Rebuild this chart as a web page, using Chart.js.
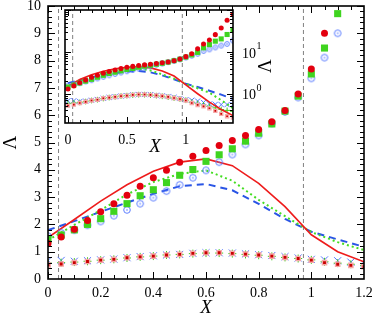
<!DOCTYPE html>
<html lang="en">
<head>
<meta charset="UTF-8">
<title>Lambda vs X</title>
<script src="https://cdn.jsdelivr.net/npm/chart.js"></script>
<style>
  body { margin: 0; background: #fff; }
  #wrap { position: relative; width: 373px; height: 319px; }
  #wrap canvas { position: absolute; left: 0; top: 0; }
</style>
</head>
<body>
<div id="wrap">
  <canvas id="mainChart" width="373" height="319"></canvas>
  <canvas id="insetChart" width="373" height="160"></canvas>
</div>
<script>
// symbols sampled every 0.05 in X
const xPts = [0, 0.05, 0.1, 0.15, 0.2, 0.25, 0.3, 0.35, 0.4, 0.45, 0.5, 0.55, 0.6, 0.65, 0.7,
              0.75, 0.8, 0.85, 0.9, 0.95, 1.0, 1.05, 1.1, 1.15, 1.2, 1.25, 1.3, 1.35, 1.4];
const redDots = [1.30, 1.54, 1.82, 2.14, 2.46, 2.76, 3.07, 3.40, 3.71, 3.98, 4.28, 4.50, 4.71, 4.89, 5.07,
                 5.26, 5.48, 5.76, 6.17, 6.78, 7.69, 9.0, 11.8, 15.5, 19.3, 25.8, 37, 57, 80];
const greenSquares = [1.45, 1.61, 1.80, 2.00, 2.21, 2.48, 2.76, 3.05, 3.27, 3.53, 3.80, 4.01, 4.31, 4.55, 4.77,
                      5.05, 5.34, 5.68, 6.15, 6.70, 7.51, 8.46, 9.72, 12.5, 14.9, 18, 20.4, 26, 33];
const blueRings = [1.57, 1.69, 1.79, 1.97, 2.11, 2.32, 2.53, 2.76, 2.98, 3.22, 3.45, 3.71, 3.98, 4.28, 4.56,
                   4.93, 5.26, 5.70, 6.12, 6.65, 7.35, 8.11, 9.0, 10.5, 11.5, 12.8, 14.1, 15.5, 18.6];
const redLow = [0.52, 0.55, 0.60, 0.64, 0.69, 0.72, 0.78, 0.81, 0.84, 0.88, 0.90, 0.94, 0.96, 0.96, 0.94,
                0.91, 0.88, 0.84, 0.79, 0.75, 0.69, 0.60, 0.54, 0.50, 0.45, 0.39, 0.33, 0.29, 0.27];
const blueLow = [0.68, 0.68, 0.65, 0.67, 0.70, 0.73, 0.78, 0.82, 0.85, 0.88, 0.90, 0.94, 0.96, 0.96, 0.95,
                 0.92, 0.89, 0.86, 0.82, 0.77, 0.72, 0.70, 0.67, 0.62, 0.57, 0.56, 0.55, 0.55, 0.55];
const greenLow = [0.58, 0.60, 0.62, 0.65, 0.69, 0.72, 0.77, 0.81, 0.84, 0.88, 0.90, 0.93, 0.95, 0.95, 0.93,
                  0.90, 0.87, 0.83, 0.79, 0.75, 0.70, 0.63, 0.58, 0.54, 0.50, 0.46, 0.42, 0.40, 0.38];

// curves sampled every 0.1 in X
const xLine = [0, 0.1, 0.2, 0.3, 0.4, 0.5, 0.6, 0.7, 0.8, 0.9, 1.0, 1.1, 1.2, 1.3, 1.4];
const redLine = [1.52, 2.18, 2.85, 3.45, 3.95, 4.28, 4.40, 4.15, 3.50, 2.65, 1.62, 1.00, 0.63, 0.42, 0.30];
const greenLine = [1.42, 1.98, 2.52, 3.10, 3.55, 3.85, 3.98, 3.60, 2.90, 2.30, 1.72, 1.35, 1.06, 0.70, 0.45];
const blueLine = [1.79, 2.12, 2.46, 2.80, 3.12, 3.40, 3.48, 3.25, 2.75, 2.20, 1.73, 1.45, 1.18, 0.95, 0.75];

const markX = [0.04, 0.97];

const mainXTicks = [0, 0.2, 0.4, 0.6, 0.8, 1, 1.2];
const mainYTicks = [0, 1, 2, 3, 4, 5, 6, 7, 8, 9, 10];
const insetXTicks = [0, 0.5, 1];
const insetYTicks = [1, 10];

const serif = "'Liberation Serif', 'DejaVu Serif', serif";
Chart.defaults.font.family = serif;
Chart.defaults.color = '#000';

const pts = (xs, ys) => xs.map((x, i) => ({x: x, y: ys[i]}));

function ringDot(r, color) {
  const c = document.createElement('canvas');
  const s = Math.ceil(2 * r + 3);
  c.width = s; c.height = s;
  const g = c.getContext('2d');
  g.strokeStyle = color; g.lineWidth = 1;
  g.beginPath(); g.arc(s / 2, s / 2, r, 0, 2 * Math.PI); g.stroke();
  g.fillStyle = color;
  g.beginPath(); g.arc(s / 2, s / 2, 0.8, 0, 2 * Math.PI); g.fill();
  return c;
}

function sym(data, style, r, fill, stroke, bw) {
  return {data: data, showLine: false, pointStyle: style, pointRadius: r,
    pointBackgroundColor: fill, pointBorderColor: stroke, pointBorderWidth: bw};
}
function curve(data, color, w, dash) {
  return {data: data, borderColor: color, borderWidth: w, borderDash: dash,
    pointRadius: 0, tension: 0};
}

function buildSets(k, yLo, yHi) {
  const sets = [
    sym(pts(xPts, redDots), 'circle', 3.5 * k, '#e3000f', '#e3000f', 0),
    sym(pts(xPts, greenSquares), 'rect', 5 * k, '#3fd41f', '#3fd41f', 0),
    sym(pts(xPts, blueRings), ringDot(3.3 * k, '#5a7cff'), 4, '#5a7cff', '#5a7cff', 1),
    curve(pts(xLine, redLine), '#ee1c1c', 1.6, []),
    curve(pts(xLine, greenLine), '#44dd22', 2, [2, 3]),
    curve(pts(xLine, blueLine), '#2a55e5', 2, [7, 5]),
    sym(pts(xPts, redLow), 'rect', 3 * k, '#c80000', '#f6a8a8', 1.4),
    sym(pts(xPts, greenLow), 'cross', 4 * k, '#44cc22', '#44cc22', 1),
    sym(pts(xPts, blueLow), 'crossRot', 5 * k, '#5577ff', '#5577ff', 1)
  ];
  markX.forEach(v => sets.push(curve([{x: v, y: yLo}, {x: v, y: yHi}], '#808080', 1, [4, 3])));
  return sets;
}

function minorList(lo, hi, step) {
  const out = [];
  for (let v = lo; v <= hi + 1e-9; v += step) out.push(+v.toFixed(4));
  return out;
}

const frameTicks = {
  id: 'frameTicks',
  beforeDraw(chart) {
    const {ctx, chartArea: a} = chart;
    ctx.save();
    ctx.fillStyle = '#fff';
    ctx.fillRect(a.left, a.top, a.right - a.left, a.bottom - a.top);
    ctx.restore();
  },
  afterDraw(chart, args, o) {
    const {ctx, chartArea: a, scales: {x, y}} = chart;
    ctx.save();
    ctx.strokeStyle = '#000';
    ctx.lineWidth = 1;
    ctx.beginPath();
    const xt = (vals, len) => vals.forEach(v => {
      const p = Math.round(x.getPixelForValue(v)) + 0.5;
      if (p < a.left || p > a.right) return;
      ctx.moveTo(p, a.bottom); ctx.lineTo(p, a.bottom - len);
      ctx.moveTo(p, a.top); ctx.lineTo(p, a.top + len);
    });
    const yt = (vals, len) => vals.forEach(v => {
      const p = Math.round(y.getPixelForValue(v)) + 0.5;
      if (p < a.top || p > a.bottom) return;
      ctx.moveTo(a.left, p); ctx.lineTo(a.left + len, p);
      ctx.moveTo(a.right, p); ctx.lineTo(a.right - len, p);
    });
    xt(o.xMajor, o.major); xt(o.xMinor, o.minor);
    yt(o.yMajor, o.major); yt(o.yMinor, o.minor);
    ctx.stroke();
    ctx.lineWidth = o.frame;
    ctx.strokeRect(a.left, a.top, a.right - a.left, a.bottom - a.top);
    ctx.restore();
  }
};

const insetText = {
  id: 'insetText',
  afterDraw(chart) {
    const {ctx, chartArea: a, scales: {y}} = chart;
    ctx.save();
    ctx.fillStyle = '#000';
    ctx.textBaseline = 'middle';
    ctx.textAlign = 'left';
    insetYTicks.forEach(v => {
      const p = y.getPixelForValue(v);
      ctx.font = '14px ' + serif;
      const w = ctx.measureText('10').width;
      ctx.fillText('10', a.right + 9, p + 2);
      ctx.font = '10px ' + serif;
      ctx.fillText(String(Math.round(Math.log10(v))), a.right + 9 + w + 0.5, p - 5);
    });
    ctx.font = 'italic 19px ' + serif;
    ctx.textAlign = 'center';
    ctx.fillText('X', 155, 147);
    ctx.translate(266, 66);
    ctx.rotate(-Math.PI / 2);
    ctx.font = '19px ' + serif;
    ctx.fillText('Λ', 0, 0);
    ctx.restore();
  }
};

const tickFont = {family: serif, size: 14};
const fmt = v => String(+(+v).toFixed(2));

new Chart(document.getElementById('mainChart'), {
  type: 'line',
  data: {datasets: buildSets(1, 0, 10)},
  plugins: [frameTicks],
  options: {
    responsive: false, animation: false, events: [],
    layout: {padding: {left: 0, right: 9, top: 5, bottom: 0}},
    plugins: {
      legend: {display: false}, tooltip: {enabled: false},
      frameTicks: {xMajor: mainXTicks, xMinor: minorList(0, 1.2, 0.05),
        yMajor: mainYTicks, yMinor: minorList(0, 10, 0.2), major: 7, minor: 4, frame: 1.6}
    },
    scales: {
      x: {
        type: 'linear', min: 0, max: 1.2,
        grid: {display: false, drawTicks: false}, border: {display: false},
        afterBuildTicks: s => { s.ticks = mainXTicks.map(v => ({value: v})); },
        ticks: {font: tickFont, color: '#000', padding: 6, maxRotation: 0, autoSkip: false, callback: fmt},
        title: {display: true, text: 'X', color: '#000', padding: 0,
          font: {family: serif, size: 19, style: 'italic'}},
        afterFit: s => { s.height = 40; s.paddingLeft = 0; s.paddingRight = 0; }
      },
      y: {
        type: 'linear', min: 0, max: 10,
        grid: {display: false, drawTicks: false}, border: {display: false},
        afterBuildTicks: s => { s.ticks = mainYTicks.map(v => ({value: v})); },
        ticks: {font: tickFont, color: '#000', padding: 7, autoSkip: false, callback: fmt},
        title: {display: true, text: 'Λ', color: '#000', padding: 0,
          font: {family: serif, size: 19}},
        afterFit: s => { s.width = 48; s.paddingTop = 0; s.paddingBottom = 0; }
      }
    }
  }
});

new Chart(document.getElementById('insetChart'), {
  type: 'line',
  data: {datasets: buildSets(0.72, 0.2, 100)},
  plugins: [frameTicks, insetText],
  options: {
    responsive: false, animation: false, events: [],
    layout: {padding: {left: 65, right: 140, top: 10, bottom: 7}},
    plugins: {
      legend: {display: false}, tooltip: {enabled: false},
      frameTicks: {xMajor: insetXTicks, xMinor: minorList(0, 1.4, 0.1),
        yMajor: [1, 10, 100],
        yMinor: [0.2, 0.3, 0.4, 0.5, 0.6, 0.7, 0.8, 0.9, 2, 3, 4, 5, 6, 7, 8, 9, 20, 30, 40, 50, 60, 70, 80, 90],
        major: 6, minor: 3, frame: 1.6}
    },
    scales: {
      x: {
        type: 'linear', min: -0.025, max: 1.4,
        grid: {display: false, drawTicks: false}, border: {display: false},
        afterBuildTicks: s => { s.ticks = insetXTicks.map(v => ({value: v})); },
        ticks: {font: tickFont, color: '#000', padding: 9, maxRotation: 0, autoSkip: false, callback: fmt},
        afterFit: s => { s.height = 30; s.paddingLeft = 0; s.paddingRight = 0; }
      },
      y: {
        type: 'logarithmic', position: 'right', min: 0.2, max: 100,
        grid: {display: false, drawTicks: false}, border: {display: false},
        ticks: {display: false},
        afterFit: s => { s.width = 0; s.paddingTop = 0; s.paddingBottom = 0; }
      }
    }
  }
});
</script>
</body>
</html>
